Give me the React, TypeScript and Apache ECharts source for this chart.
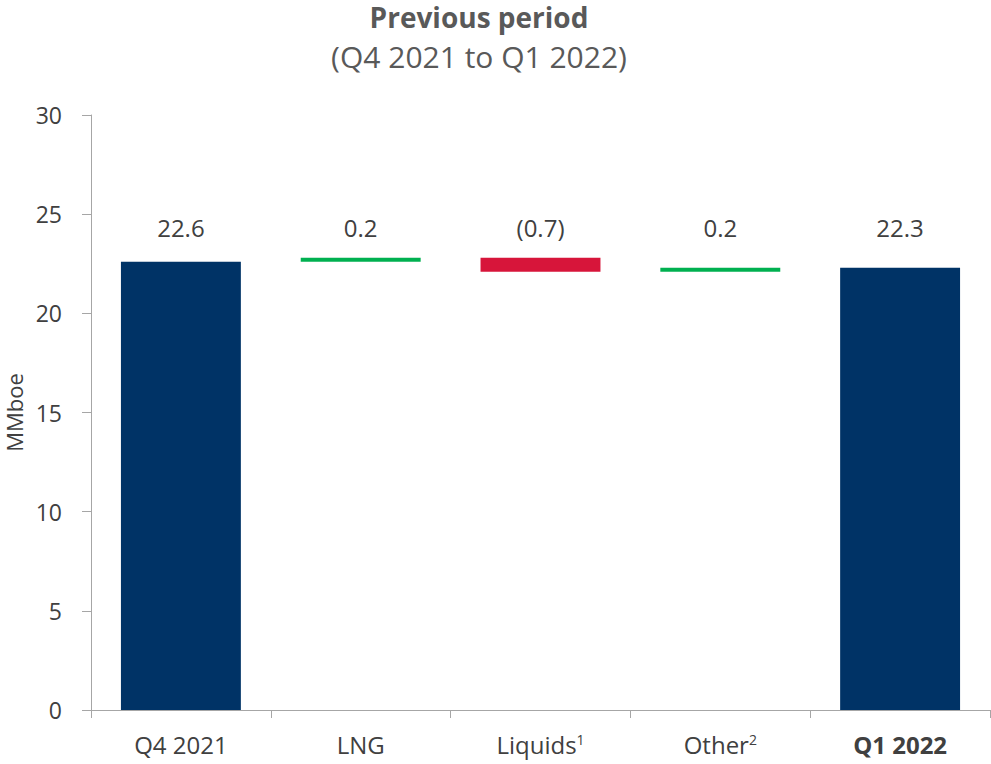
import React, { useEffect, useRef } from "react";
import * as echarts from "echarts";

const categories = ["Q4 2021", "LNG", "Liquids", "Other", "Q1 2022"];
const footnotes = ["", "", "1", "2", ""];
const changes = [22.6, 0.2, -0.7, 0.2, 22.3];
const isTotal = [true, false, false, false, true];
const valueLabels = ["22.6", "0.2", "(0.7)", "0.2", "22.3"];
const yTicks = [0, 5, 10, 15, 20, 25, 30];
const LABEL_LEVEL = 24.35;

const NAVY = "#003366";
const GREEN = "#00B050";
const RED = "#D7153A";
const TEXT = "#404040";
const AXIS = "#A6A6A6";
const FONT = "'Open Sans', 'Noto Sans', sans-serif";

export default function App() {
  const ref = useRef<HTMLDivElement>(null);

  useEffect(() => {
    if (!ref.current) return;
    const chart = echarts.init(ref.current, undefined, { renderer: "svg" });

    const base: number[] = [];
    const heights: any[] = [];
    let running = 0;
    changes.forEach((v, i) => {
      if (isTotal[i]) {
        base.push(0);
        running = v;
        heights.push({ value: v, itemStyle: { color: NAVY } });
      } else {
        const next = running + v;
        base.push(Math.min(running, next));
        heights.push({ value: Math.abs(v), itemStyle: { color: v >= 0 ? GREEN : RED } });
        running = next;
      }
    });

    chart.setOption({
      animation: false,
      textStyle: { fontFamily: FONT },
      graphic: [
        {
          type: "text",
          x: 479,
          y: 2,
          style: {
            text: "Previous period",
            fill: "#595959",
            font: `bold 28px ${FONT}`,
            lineHeight: 30,
            textAlign: "center",
            textVerticalAlign: "top",
          },
        },
        {
          type: "text",
          x: 479,
          y: 56,
          style: {
            text: "(Q4 2021 to Q1 2022)",
            fill: "#595959",
            font: `30px ${FONT}`,
            lineHeight: 32,
            textAlign: "center",
            textVerticalAlign: "middle",
          },
        },
      ],
      grid: { left: 91, right: 1, top: 115, bottom: 54, outerBoundsMode: "none", containLabel: false },
      xAxis: {
        type: "category",
        data: categories,
        axisLine: { lineStyle: { color: AXIS, width: 1 } },
        axisTick: { show: true, length: 8, lineStyle: { color: AXIS } },
        axisLabel: {
          interval: 0,
          margin: 22,
          color: TEXT,
          fontSize: 24,
          fontFamily: FONT,
          formatter: (val: string, idx: number) => {
            if (idx === categories.length - 1) return `{b|${val}}`;
            const fn = footnotes[idx];
            return fn ? `{n|${val}}{s|${fn}}` : `{n|${val}}`;
          },
          rich: {
            n: { fontSize: 24, color: TEXT, fontFamily: FONT },
            b: { fontSize: 24, color: TEXT, fontWeight: "bold", fontFamily: FONT },
            s: { fontSize: 14, color: TEXT, fontFamily: FONT, verticalAlign: "top", padding: [0, 0, 8, 0] },
          },
        },
      },
      yAxis: {
        type: "value",
        min: yTicks[0],
        max: yTicks[yTicks.length - 1],
        interval: 5,
        name: "MMboe",
        nameLocation: "middle",
        nameGap: 66,
        nameRotate: 90,
        nameTextStyle: { fontSize: 22, color: TEXT, fontFamily: FONT },
        axisLine: { show: true, lineStyle: { color: AXIS, width: 1 } },
        axisTick: { show: true, length: 9, lineStyle: { color: AXIS } },
        axisLabel: { margin: 29, color: TEXT, fontSize: 23, fontFamily: FONT },
        splitLine: { show: false },
      },
      series: [
        {
          type: "bar",
          stack: "w",
          data: base,
          itemStyle: { color: "transparent" },
          emphasis: { disabled: true },
          barCategoryGap: "33.3%",
          silent: true,
        },
        {
          type: "bar",
          stack: "w",
          data: heights,
          barCategoryGap: "33.3%",
        },
        {
          type: "scatter",
          data: categories.map(() => LABEL_LEVEL),
          symbolSize: 0,
          itemStyle: { color: TEXT, opacity: 1 },
          silent: true,
          label: {
            show: true,
            position: "inside",
            color: TEXT,
            opacity: 1,
            fontSize: 24,
            fontFamily: FONT,
            formatter: (p: any) => valueLabels[p.dataIndex],
          },
        },
      ],
    });

    return () => chart.dispose();
  }, []);

  return <div ref={ref} style={{ width: 991, height: 764, position: "absolute", left: 0, top: 0 }} />;
}
